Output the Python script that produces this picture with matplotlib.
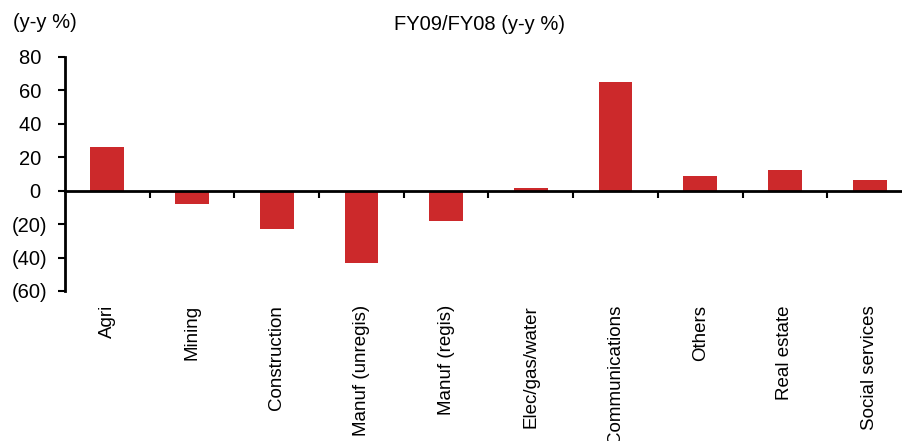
import numpy as np
import matplotlib.pyplot as plt
from matplotlib.ticker import FuncFormatter
import matplotlib.transforms as mtransforms

plt.rcParams['font.family'] = ['Liberation Sans', 'DejaVu Sans']

# sector growth, FY09 over FY08
sectors = ["Agri", "Mining", "Construction", "Manuf (unregis)", "Manuf (regis)",
           "Elec/gas/water", "Communications", "Others", "Real estate", "Social services"]
growth = [26, -8, -23, -43, -18, 1.4, 65, 8.6, 12.2, 6.2]

bar_color = "#cc292b"

fig = plt.figure(figsize=(9.03, 4.41), dpi=100)
ax = fig.add_axes([65 / 903, 150 / 441, 838 / 903, 234 / 441])

x = np.arange(len(sectors))
ax.bar(x, growth, width=0.4, color=bar_color, zorder=2)

ax.set_ylim(-60, 80)
ax.set_xlim(-0.5, 9.394)
ax.set_yticks(np.arange(-60, 81, 20))

# negatives in brackets; positives keep room for the closing bracket
def paren_fmt(v, pos):
    v = int(round(v))
    return f"({abs(v)})" if v < 0 else f"{v} "

ax.yaxis.set_major_formatter(FuncFormatter(paren_fmt))
ax.tick_params(axis='y', direction='out', length=5, width=1.5, labelsize=14.5, pad=8)

for s in ['top', 'right']:
    ax.spines[s].set_visible(False)
ax.spines['left'].set_linewidth(2)
ax.spines['bottom'].set_position(('data', 0))
ax.spines['bottom'].set_linewidth(2)
ax.spines['bottom'].set_zorder(3)

# tick marks between categories, names written under the plot area
ax.set_xticks(np.arange(0.5, len(sectors) - 0.5, 1.0))
ax.set_xticklabels([])
ax.tick_params(axis='x', direction='out', length=5, width=1.5)

trans = mtransforms.blended_transform_factory(ax.transData, ax.transAxes)
for i, name in enumerate(sectors):
    ax.text(i, -0.06, name, transform=trans, rotation=90, ha='center', va='top',
            fontsize=13.5)

fig.text(13 / 903, 1 - 22 / 441, "(y-y %)", fontsize=14.5, ha='left', va='center')
fig.text(480 / 903, 1 - 25 / 441, "FY09/FY08 (y-y %)", fontsize=14.5, ha='center', va='center')

fig.savefig("out.png", dpi=100)
